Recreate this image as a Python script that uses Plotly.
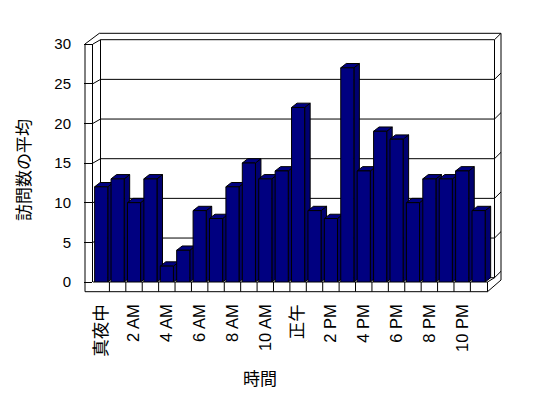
import plotly.graph_objects as go

# ---- data ----
hours = list(range(24))
visits = [12, 13, 10, 13, 2, 4, 9, 8, 12, 15, 13, 14, 22, 9, 8, 27, 14, 19, 18, 10, 13, 13, 14, 9]
tick_hours = [0, 2, 4, 6, 8, 10, 12, 14, 16, 18, 20, 22]
tick_labels = ["真夜中", "2 AM", "4 AM", "6 AM", "8 AM", "10 AM", "正午", "2 PM", "4 PM", "6 PM", "8 PM", "10 PM"]
y_ticks = [0, 5, 10, 15, 20, 25, 30]
x_title = "時間"
y_title = "訪問数の平均"

# ---- layout geometry (pixels) ----
W, H = 548, 398
L, R, T, B = 93, 495, 44, 282
X0, X1 = -0.5, 24.0
Y0, Y1 = 0, 30
ux = (R - L) / (X1 - X0)
uy = (B - T) / (Y1 - Y0)

NAVY = "#000080"
FONT = "Liberation Sans, Noto Sans CJK JP, sans-serif"


def pxx(x):
    return (x - L) / (R - L)


def pxy(y):
    return (B - y) / (B - T)


def yf(v):
    # pixel y of a value on the front plane
    return B - (v - Y0) * uy


def pline(x0, y0, x1, y1, layer="below"):
    return dict(type="line", xref="paper", yref="paper",
                x0=pxx(x0), y0=pxy(y0), x1=pxx(x1), y1=pxy(y1),
                line=dict(color="black", width=1), layer=layer)


shapes = []

# back wall geometry
BW_L, BW_R, BW_R2 = 100.5, 494.5, 501
WD = 4.3  # depth rise of back wall
FLOOR_R, FLOOR_BOT = 487.5, 291.7
WALL_OUT = 85

# gridlines on back wall with diagonals across the side walls
for v in y_ticks:
    y = yf(v)
    yb = y - WD
    if v > 0:
        shapes.append(pline(L, y, BW_L, yb))
    shapes.append(pline(BW_L, yb, BW_R, yb))
    shapes.append(pline(BW_R, yb, BW_R2, yb - 6.4))

# wall outlines
top_front = yf(Y1)
shapes.append(pline(WALL_OUT, top_front, WALL_OUT, FLOOR_BOT))
shapes.append(pline(WALL_OUT, top_front, 99.3, top_front - 10.7))
shapes.append(pline(99.3, top_front - 10.7, BW_R2, top_front - 10.7))
shapes.append(pline(BW_L, top_front - WD, BW_L, B - WD))
shapes.append(pline(BW_R, top_front - WD, BW_R, B - WD))
shapes.append(pline(BW_R2, top_front - 10.7, BW_R2, B - 2))

# floor slab
shapes.append(pline(L, B, FLOOR_R, B))
shapes.append(pline(WALL_OUT, FLOOR_BOT, FLOOR_R, FLOOR_BOT))
shapes.append(pline(FLOOR_R, B, FLOOR_R, FLOOR_BOT))
shapes.append(pline(FLOOR_R, FLOOR_BOT, BW_R2, B - 2))
shapes.append(pline(FLOOR_R, B, BW_R, B - WD))

# floor dividers at category boundaries
for k in hours[1:]:
    shapes.append(dict(type="line", xref="x", yref="paper",
                       x0=k - 0.5, x1=k - 0.5, y0=pxy(B), y1=pxy(FLOOR_BOT),
                       line=dict(color="black", width=1), layer="below"))

# 3D faces of bars (top + right side)
bw = 0.8
dx = 5.5 / ux
dy = 4.3 / uy
for h, v in zip(hours, visits):
    x0 = h - bw / 2
    x1 = h + bw / 2
    side = f"M {x1},{Y0} L {x1},{v} L {x1+dx},{v+dy} L {x1+dx},{Y0+dy} Z"
    top = f"M {x0},{v} L {x1},{v} L {x1+dx},{v+dy} L {x0+dx},{v+dy} Z"
    for p, col in ((side, "#000070"), (top, NAVY)):
        shapes.append(dict(type="path", xref="x", yref="y", path=p,
                           fillcolor=col, line=dict(color="black", width=1),
                           layer="between"))

ticktext = [f"<span style='font-size:17.5px'>{t}</span>" if not t[0].isdigit() else t
            for t in tick_labels]

fig = go.Figure()
fig.add_trace(go.Bar(x=hours, y=visits, width=bw,
                     marker=dict(color=NAVY, line=dict(color="black", width=1)),
                     hoverinfo="skip"))

fig.update_layout(
    width=W, height=H,
    margin=dict(l=L, r=W - R, t=T, b=H - B, pad=0),
    paper_bgcolor="white", plot_bgcolor="rgba(0,0,0,0)",
    showlegend=False,
    font=dict(family=FONT, color="black", size=16),
    shapes=shapes,
    xaxis=dict(range=[X0, X1], tickvals=tick_hours, ticktext=ticktext,
               tickangle=-90, ticks="", showline=False, showgrid=False,
               zeroline=False, tickfont=dict(size=16.5, family=FONT),
               ticklabelstandoff=18),
    yaxis=dict(range=[Y0, Y1], tickvals=y_ticks, ticks="outside", ticklen=8,
               tickcolor="black", tickwidth=1, showline=True, linecolor="black",
               linewidth=1, showgrid=False, zeroline=False,
               tickfont=dict(size=15, family=FONT), ticklabelstandoff=10),
    annotations=[
        dict(text=y_title, xref="paper", yref="paper", x=pxx(24), y=pxy(170),
             xanchor="center", yanchor="middle", textangle=-90, showarrow=False,
             font=dict(size=17, family=FONT)),
        dict(text=x_title, xref="paper", yref="paper", x=pxx(260), y=pxy(380),
             xanchor="center", yanchor="middle", showarrow=False,
             font=dict(size=17, family=FONT)),
    ],
)

fig.write_html("out.html")
